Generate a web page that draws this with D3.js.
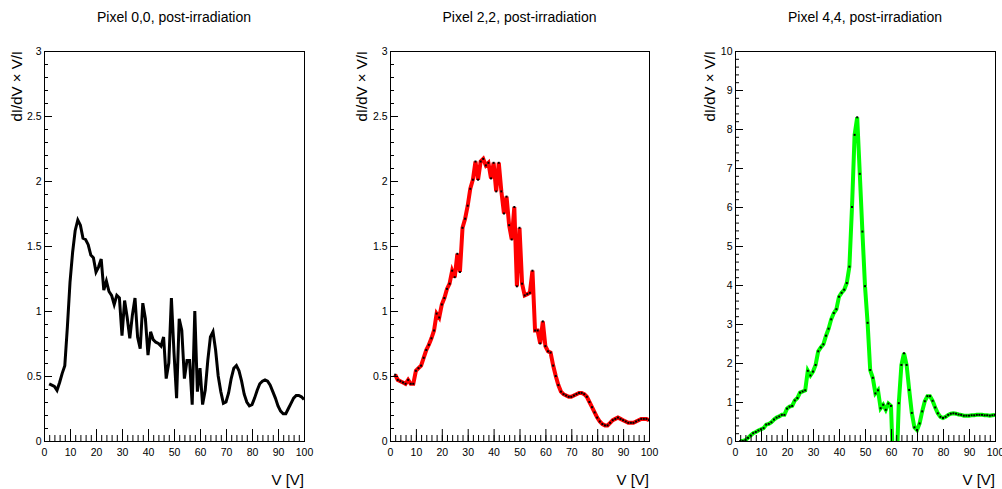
<!DOCTYPE html>
<html>
<head>
<meta charset="utf-8">
<script src="https://cdn.jsdelivr.net/npm/d3@7"></script>
<style>
  body { margin: 0; background: #fff; }
  svg { display: block; font-family: "Liberation Sans", Arial, Helvetica, sans-serif; }
</style>
</head>
<body>
<svg id="chart" width="1002" height="489"></svg>
<script>
// bias voltage of each measurement point [V]
const voltages = [
    2, 3, 4, 5, 6, 7, 8, 9, 10, 11, 12, 13, 14, 15, 16, 17, 18, 19, 20, 21,
    22, 23, 24, 25, 26, 27, 28, 29, 30, 31, 32, 33, 34, 35, 36, 37, 38, 39, 40, 41,
    42, 43, 44, 45, 46, 47, 48, 49, 50, 51, 52, 53, 54, 55, 56, 57, 58, 59, 60, 61,
    62, 63, 64, 65, 66, 67, 68, 69, 70, 71, 72, 73, 74, 75, 76, 77, 78, 79, 80, 81,
    82, 83, 84, 85, 86, 87, 88, 89, 90, 91, 92, 93, 94, 95, 96, 97, 98, 99, 100
];

// dI/dV x V/I for each pixel, same order as voltages
const pixel00 = [
    0.44, 0.43, 0.42, 0.39, 0.45, 0.52, 0.58, 0.88, 1.22, 1.45, 1.62, 1.70, 1.66, 1.56, 1.55, 1.51, 1.43, 1.41, 1.30, 1.34,
    1.40, 1.16, 1.23, 1.15, 1.12, 1.05, 1.12, 1.10, 0.81, 1.08, 0.95, 0.79, 0.97, 1.10, 0.80, 0.71, 1.06, 0.94, 0.66, 0.84,
    0.78, 0.76, 0.75, 0.73, 0.80, 0.48, 0.60, 1.10, 0.68, 0.33, 0.94, 0.85, 0.48, 0.62, 0.62, 0.28, 1.00, 0.38, 0.56, 0.28,
    0.39, 0.62, 0.80, 0.84, 0.70, 0.50, 0.38, 0.29, 0.30, 0.37, 0.48, 0.56, 0.58, 0.54, 0.46, 0.36, 0.30, 0.27, 0.28, 0.33,
    0.39, 0.44, 0.46, 0.47, 0.46, 0.43, 0.38, 0.33, 0.27, 0.23, 0.21, 0.21, 0.25, 0.29, 0.33, 0.35, 0.35, 0.34, 0.32
];
const pixel22 = [
    0.51, 0.47, 0.46, 0.45, 0.44, 0.47, 0.44, 0.44, 0.54, 0.56, 0.58, 0.64, 0.70, 0.74, 0.79, 0.85, 0.98, 0.95, 1.05, 1.10,
    1.17, 1.21, 1.31, 1.26, 1.44, 1.30, 1.64, 1.71, 1.81, 1.94, 2.01, 2.15, 2.01, 2.15, 2.17, 2.12, 2.14, 2.02, 2.14, 1.92,
    2.14, 1.92, 1.75, 1.88, 1.66, 1.55, 1.80, 1.19, 1.64, 1.21, 1.12, 1.13, 1.14, 1.31, 0.85, 0.85, 0.75, 0.92, 0.73, 0.69,
    0.68, 0.58, 0.50, 0.43, 0.38, 0.36, 0.35, 0.34, 0.34, 0.35, 0.36, 0.37, 0.37, 0.36, 0.34, 0.30, 0.26, 0.22, 0.18, 0.15,
    0.13, 0.12, 0.12, 0.14, 0.16, 0.17, 0.18, 0.17, 0.16, 0.15, 0.14, 0.14, 0.14, 0.15, 0.16, 0.17, 0.17, 0.17, 0.16
];
const pixel44 = [
    0.00, 0.00, 0.02, 0.08, 0.14, 0.20, 0.23, 0.27, 0.30, 0.33, 0.42, 0.44, 0.48, 0.55, 0.60, 0.63, 0.67, 0.67, 0.83, 0.88,
    0.90, 1.04, 1.10, 1.24, 1.27, 1.30, 1.80, 1.68, 1.78, 1.95, 2.30, 2.40, 2.48, 2.70, 2.88, 3.12, 3.28, 3.38, 3.70, 3.80,
    3.88, 4.05, 4.47, 6.00, 7.85, 8.30, 6.85, 5.37, 3.97, 3.03, 1.82, 1.62, 1.22, 1.30, 0.84, 0.93, 0.80, 0.96, 0.90, -1.00,
    -1.00, 0.97, 1.95, 2.25, 1.95, 1.31, 0.72, 0.35, 0.28, 0.45, 0.76, 1.02, 1.15, 1.15, 1.03, 0.86, 0.71, 0.62, 0.59, 0.62,
    0.67, 0.70, 0.71, 0.70, 0.68, 0.67, 0.65, 0.65, 0.65, 0.66, 0.66, 0.67, 0.67, 0.67, 0.66, 0.66, 0.65, 0.66, 0.67
];

const panelTitles = ['Pixel 0,0, post-irradiation', 'Pixel 2,2, post-irradiation', 'Pixel 4,4, post-irradiation'];
const yAxisMax = [3, 3, 10];
const xAxisTitle = 'V [V]';
const yAxisTitle = 'dI/dV \u00d7 V/I';

// layout of the three pads (ROOT-like canvas divided in 3)
const frames = [
    {left: 44, right: 304, titleX: 22},
    {left: 390, right: 649, titleX: 367},
    {left: 735, right: 995, titleX: 715}
];
const frameTop = 51, frameBottom = 441;

const panels = [
    {title: panelTitles[0], values: pixel00, yMax: yAxisMax[0], color: '#000000', width: 3, markers: false},
    {title: panelTitles[1], values: pixel22, yMax: yAxisMax[1], color: '#ff0000', width: 4, markers: true},
    {title: panelTitles[2], values: pixel44, yMax: yAxisMax[2], color: '#00ff00', width: 4, markers: true}
];

const svg = d3.select('#chart');
svg.append('rect').attr('width', 1002).attr('height', 489).attr('fill', '#fff');

panels.forEach((panel, i) => {
    let f = frames[i];
    let x = d3.scaleLinear().domain([0, 100]).range([f.left, f.right]);
    let y = d3.scaleLinear().domain([0, panel.yMax]).range([frameBottom, frameTop]);
    let g = svg.append('g');

    // clip the graph to the frame
    g.append('clipPath').attr('id', 'clip' + i)
        .append('rect')
        .attr('x', f.left).attr('y', frameTop)
        .attr('width', f.right - f.left).attr('height', frameBottom - frameTop);

    let points = voltages.map((v, j) => ({v: v, val: panel.values[j]}));

    let line = d3.line()
        .x(d => x(d.v))
        .y(d => y(d.val));

    let plot = g.append('g').attr('clip-path', 'url(#clip' + i + ')');
    plot.append('path')
        .datum(points)
        .attr('fill', 'none')
        .attr('stroke', panel.color)
        .attr('stroke-width', panel.width)
        .attr('stroke-linejoin', 'miter')
        .attr('stroke-miterlimit', 4)
        .attr('d', line);

    if (panel.markers) {
        plot.selectAll('.dot')
            .data(points)
            .enter().append('rect')
            .attr('class', 'dot')
            .attr('x', d => x(d.v) - 1)
            .attr('y', d => y(d.val) - 1)
            .attr('width', 2).attr('height', 2)
            .attr('fill', '#000');
    }

    // frame box
    g.append('rect')
        .attr('x', f.left + 0.5).attr('y', frameTop + 0.5)
        .attr('width', f.right - f.left).attr('height', frameBottom - frameTop)
        .attr('fill', 'none').attr('stroke', '#000').attr('stroke-width', 1);

    // minor ticks first, then major ticks with labels
    g.append('g')
        .attr('transform', 'translate(0,' + frameBottom + ')')
        .call(d3.axisBottom(x).ticks(50).tickSize(-6).tickSizeOuter(0).tickFormat(''));
    g.append('g')
        .attr('transform', 'translate(0,' + frameBottom + ')')
        .call(d3.axisBottom(x).ticks(10).tickSize(-12).tickSizeOuter(0).tickPadding(8));

    g.append('g')
        .attr('transform', 'translate(' + f.left + ',0)')
        .call(d3.axisLeft(y).ticks(panel.yMax === 3 ? 30 : 50).tickSize(-4).tickSizeOuter(0).tickFormat(''));
    g.append('g')
        .attr('transform', 'translate(' + f.left + ',0)')
        .call(d3.axisLeft(y).ticks(panel.yMax === 3 ? 6 : 10).tickSize(-8).tickSizeOuter(0).tickPadding(2.5)
            .tickFormat(d3.format('~g')));

    g.selectAll('.tick text')
        .attr('fill', '#000')
        .style('font-size', '10.5px')
        .style('font-family', '"Liberation Sans", Arial, sans-serif');
    g.selectAll('.domain, .tick line').attr('stroke', '#000');

    // titles
    g.append('text')
        .attr('x', (f.left + f.right) / 2).attr('y', 22)
        .attr('text-anchor', 'middle')
        .style('font-size', '14px')
        .text(panel.title);

    g.append('text')
        .attr('x', f.right).attr('y', 485)
        .attr('text-anchor', 'end')
        .style('font-size', '15px')
        .text(xAxisTitle);

    g.append('text')
        .attr('transform', 'translate(' + f.titleX + ',' + frameTop + ') rotate(-90)')
        .attr('text-anchor', 'end')
        .style('font-size', '15px')
        .text(yAxisTitle);
});
</script>
</body>
</html>
